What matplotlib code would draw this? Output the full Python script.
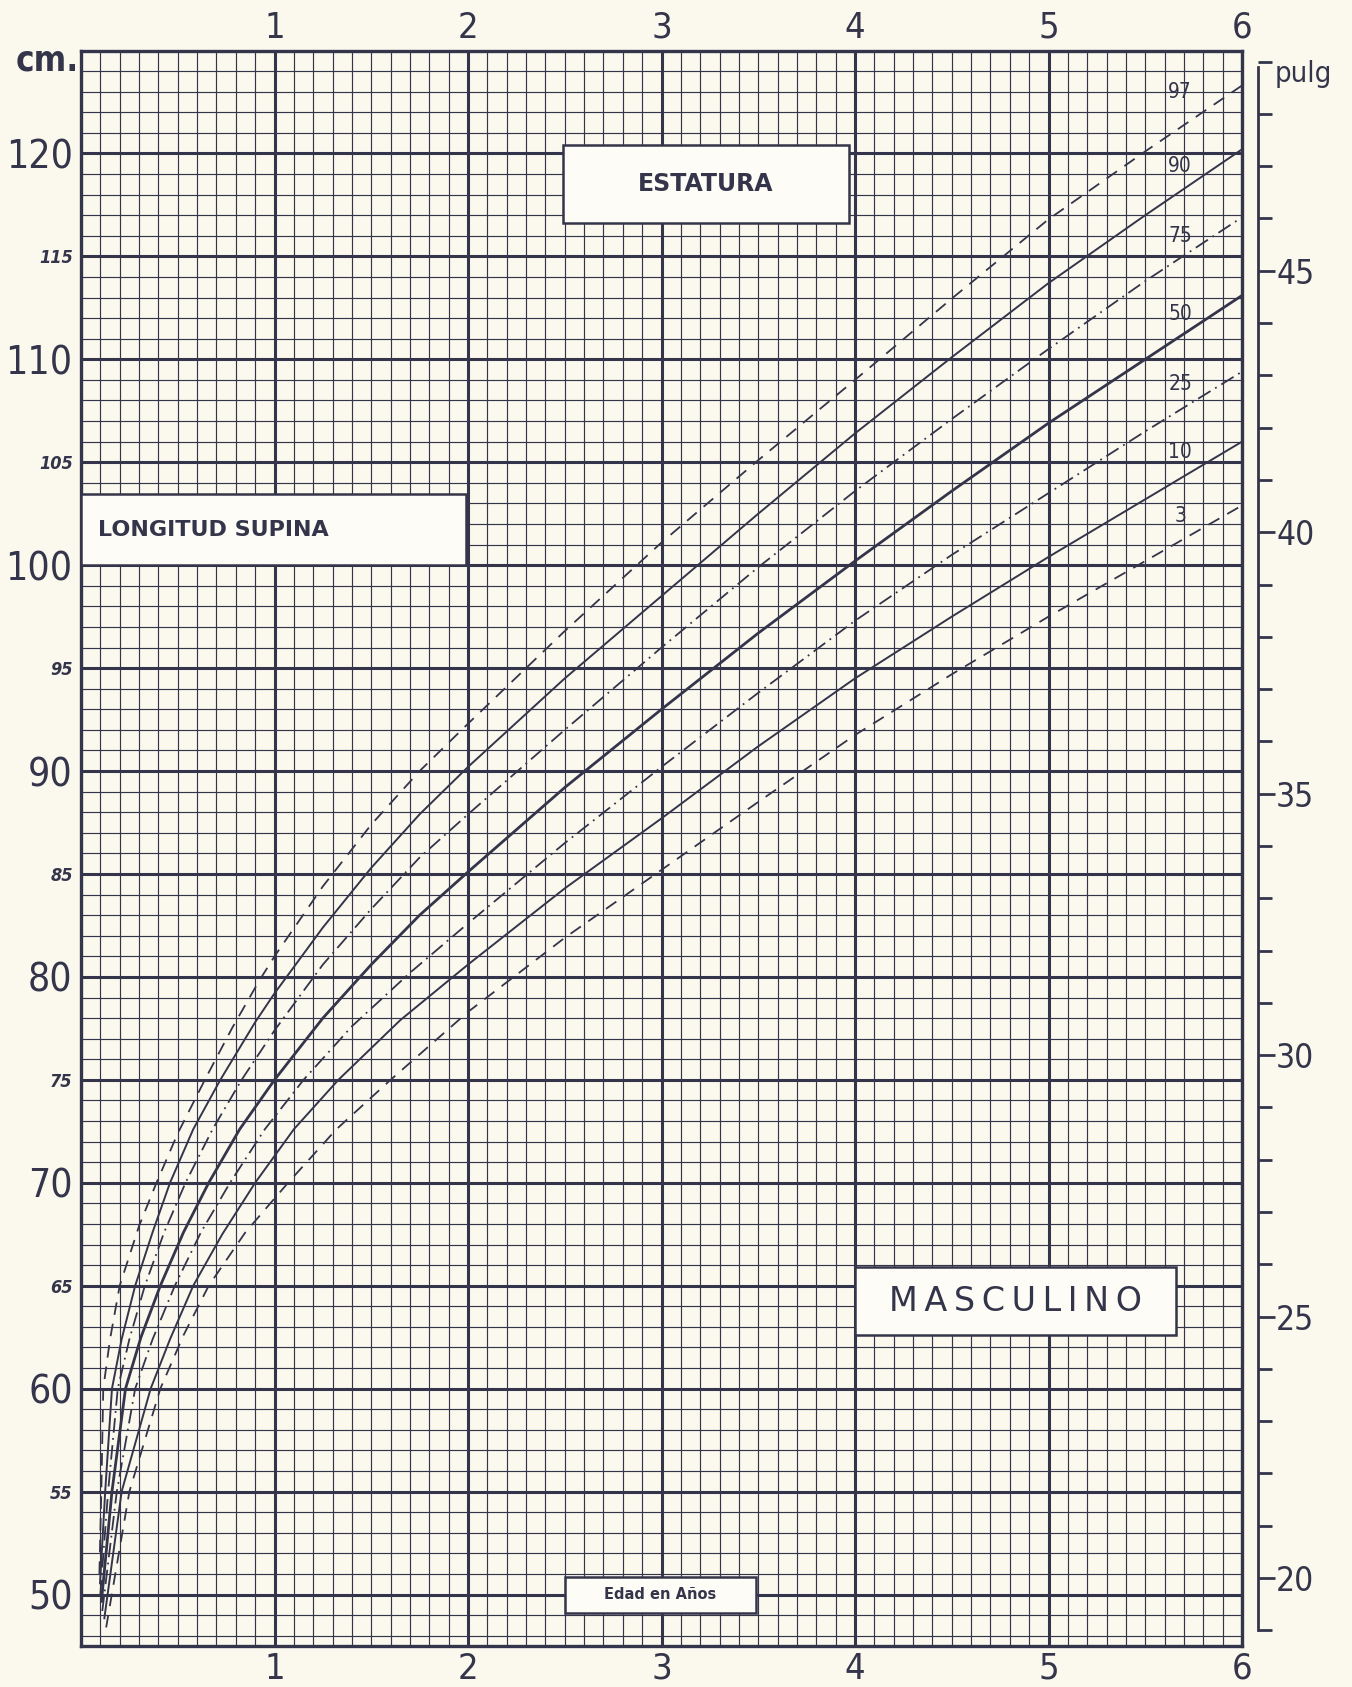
import matplotlib
matplotlib.use("Agg")
import matplotlib.pyplot as plt
from matplotlib.ticker import MultipleLocator, FixedLocator
from matplotlib.patches import Rectangle

"""
Data (read off the printed chart: age in years, length/height in cm)
"""

age_97 = [0.095, 0.105, 0.115, 0.15, 0.20, 0.30, 0.39, 0.50, 0.64, 0.78, 0.92, 1.0,
          1.25, 1.5, 1.75, 2.0, 2.5, 3.0, 3.5, 4.0, 4.5, 5.0, 5.5, 6.0]
cm_97 = [51.0, 55.0, 60.0, 62.4, 65.0, 67.9, 70.0, 72.4, 75.0, 77.5, 79.8, 81.0,
         84.4, 87.4, 90.0, 92.3, 96.8, 101.1, 105.1, 109.0, 112.95, 116.8, 120.1, 123.3]

age_90 = [0.098, 0.125, 0.16, 0.21, 0.28, 0.37, 0.46, 0.58, 0.72, 0.9, 1.0, 1.25,
          1.5, 1.75, 2.0, 2.5, 3.0, 3.5, 4.0, 4.5, 5.0, 5.5, 6.0]
cm_90 = [50.5, 55.0, 60.0, 62.4, 65.0, 67.6, 70.0, 72.6, 75.0, 77.8, 79.2, 82.4,
         85.3, 87.9, 90.2, 94.5, 98.5, 102.5, 106.4, 110.1, 113.7, 117.0, 120.2]

age_75 = [0.10, 0.14, 0.19, 0.25, 0.33, 0.43, 0.54, 0.68, 0.83, 1.0, 1.25, 1.5,
          1.75, 2.0, 2.5, 3.0, 3.5, 4.0, 4.5, 5.0, 5.5, 6.0]
cm_75 = [50.0, 55.0, 60.0, 62.4, 65.0, 67.6, 70.0, 72.6, 75.0, 77.4, 80.6, 83.3,
         85.8, 87.9, 92.0, 96.0, 99.9, 103.6, 107.1, 110.5, 113.8, 116.9]

age_50 = [0.105, 0.16, 0.23, 0.31, 0.41, 0.53, 0.66, 0.82, 1.0, 1.25, 1.5, 1.75,
          2.0, 2.5, 3.0, 3.5, 4.0, 4.5, 5.0, 5.5, 6.0]
cm_50 = [49.6, 55.0, 60.0, 62.5, 65.0, 67.6, 70.0, 72.6, 75.0, 78.0, 80.6, 83.0,
         85.1, 89.2, 93.0, 96.7, 100.2, 103.6, 106.9, 110.0, 113.1]

age_25 = [0.11, 0.185, 0.28, 0.37, 0.485, 0.62, 0.77, 0.95, 1.15, 1.4, 1.7, 2.0,
          2.5, 3.0, 3.5, 4.0, 4.5, 5.0, 5.5, 6.0]
cm_25 = [49.2, 55.0, 60.0, 62.4, 65.0, 67.6, 70.0, 72.6, 75.0, 77.6, 80.2, 82.6,
         86.5, 90.2, 93.8, 97.3, 100.5, 103.5, 106.5, 109.4]

age_10 = [0.12, 0.21, 0.36, 0.46, 0.58, 0.73, 0.9, 1.1, 1.33, 1.65, 2.0, 2.5,
          3.0, 3.5, 4.0, 4.5, 5.0, 5.5, 6.0]
cm_10 = [48.8, 55.0, 60.0, 62.4, 65.0, 67.5, 70.0, 72.6, 75.0, 77.9, 80.6, 84.3,
         87.7, 91.2, 94.5, 97.5, 100.4, 103.2, 106.0]

age_3 = [0.13, 0.25, 0.41, 0.53, 0.66, 0.85, 1.07, 1.32, 1.6, 2.0, 2.5, 3.0,
         3.5, 4.0, 4.5, 5.0, 5.5, 6.0]
cm_3 = [48.4, 55.0, 60.0, 62.6, 65.0, 67.6, 70.0, 72.6, 75.0, 78.3, 81.9, 85.2,
        88.5, 91.75, 94.7, 97.5, 100.2, 102.9]

pct_names = ["97", "90", "75", "50", "25", "10", "3"]
pct_label_y = [123.0, 119.4, 116.0, 112.2, 108.8, 105.5, 102.4]

year_ticks = [1, 2, 3, 4, 5, 6]
cm_ticks = [50, 55, 60, 65, 70, 75, 80, 85, 90, 95, 100, 105, 110, 115, 120]
inch_ticks = [20, 25, 30, 35, 40, 45]

"""
Style
"""

ink = "#34354a"
paper = "#fbf9ee"
box_fill = "#fdfcf6"
font = dict(family="DejaVu Sans", fontstretch="condensed")

styles = {
    "97": dict(ls=(0, (7, 5)), lw=1.3),
    "90": dict(ls="-", lw=1.4),
    "75": dict(ls=(0, (8, 3, 1, 3)), lw=1.3),
    "50": dict(ls="-", lw=2.0),
    "25": dict(ls=(0, (8, 3, 1, 3)), lw=1.3),
    "10": dict(ls="-", lw=1.4),
    "3": dict(ls=(0, (7, 5)), lw=1.3),
}


def curves():
    return [(age_97, cm_97), (age_90, cm_90), (age_75, cm_75), (age_50, cm_50),
            (age_25, cm_25), (age_10, cm_10), (age_3, cm_3)]


def add_box(ax, x0, x1, y0, y1):
    ax.add_patch(Rectangle((x0, y0), x1 - x0, y1 - y0, facecolor=box_fill,
                           edgecolor=ink, lw=1.8, zorder=3))


"""
Plot
"""

fig = plt.figure(figsize=(13.52, 16.87), dpi=100, facecolor=paper)
ax = fig.add_axes([81 / 1352, 41 / 1687, 1161 / 1352, 1595.5 / 1687])
ax.set_facecolor(paper)
ax.set_xlim(0, 6)
ax.set_ylim(47.5, 125)

# graph paper
ax.xaxis.set_major_locator(FixedLocator(year_ticks))
ax.xaxis.set_minor_locator(MultipleLocator(0.1))
ax.yaxis.set_major_locator(FixedLocator(cm_ticks))
ax.yaxis.set_minor_locator(MultipleLocator(1))
ax.grid(which="minor", color=ink, lw=0.85)
ax.grid(which="major", color=ink, lw=2.2)
ax.set_axisbelow(True)
for s in ax.spines.values():
    s.set_color(ink)
    s.set_linewidth(2.4)

ax.tick_params(which="both", length=0, colors=ink)
ax.tick_params(axis="x", which="major", top=True, labeltop=True, labelsize=26, pad=4)
ax.set_xticklabels([str(y) for y in year_ticks], **font)

ax.set_yticklabels([str(c) for c in cm_ticks], **font)
for lab, c in zip(ax.yaxis.get_ticklabels(), cm_ticks):
    lab.set_color(ink)
    if c % 10 == 5:
        lab.set_fontsize(13)
        lab.set_fontstyle("italic")
        lab.set_fontweight("bold")
    else:
        lab.set_fontsize(28)
ax.tick_params(axis="y", pad=6)

# percentile curves
for (x, y), n in zip(curves(), pct_names):
    ax.plot(x, y, color=ink, zorder=2, solid_capstyle="butt",
            dash_capstyle="butt", solid_joinstyle="round", **styles[n])
for n, yl in zip(pct_names, pct_label_y):
    ax.text(5.68, yl, n, fontsize=15, color=ink, ha="center", va="center",
            zorder=4, **font)

# label boxes
add_box(ax, 2.49, 3.97, 116.6, 120.4)
ax.text(3.23, 118.5, "ESTATURA", fontsize=17, fontweight="bold", color=ink,
        ha="center", va="center", zorder=4)
add_box(ax, 0.0, 1.99, 100.0, 103.45)
ax.text(0.09, 101.7, "LONGITUD SUPINA", fontsize=16, fontweight="bold", color=ink,
        ha="left", va="center", zorder=4)
add_box(ax, 4.0, 5.66, 62.6, 65.9)
ax.text(4.83, 64.25, "\u2009".join("MASCULINO"), fontsize=24,
        color=ink, ha="center", va="center", zorder=4)
add_box(ax, 2.5, 3.49, 49.1, 50.87)
ax.text(2.995, 49.98, "Edad en Años", fontsize=10.5, fontweight="bold", color=ink,
        ha="center", va="center", zorder=4)

ax.text(-0.012, 124.5, "cm.", fontsize=25, fontweight="bold", color=ink,
        ha="right", va="center", clip_on=False, **font)

# inches scale on the right
ax2 = ax.twinx()
ax2.set_ylim(47.5 / 2.54, 125 / 2.54)
for k in ["left", "top", "bottom"]:
    ax2.spines[k].set_visible(False)
ax2.spines["right"].set_position(("outward", 11.5))
ax2.spines["right"].set_bounds(19, 48.9)
ax2.spines["right"].set_color(ink)
ax2.spines["right"].set_linewidth(2.0)
ax2.yaxis.set_major_locator(FixedLocator(inch_ticks))
ax2.yaxis.set_minor_locator(FixedLocator(list(range(19, 50))))
ax2.set_yticklabels([str(i) for i in inch_ticks], **font)
ax2.tick_params(axis="y", which="both", direction="out", colors=ink, width=2.0)
ax2.tick_params(axis="y", which="major", length=12, labelsize=24, pad=1)
ax2.tick_params(axis="y", which="minor", length=10)
ax2.text(1.028, 0.985, "pulg", fontsize=21, color=ink, ha="left", va="center",
         transform=ax.transAxes, clip_on=False, **font)

fig.savefig("out.png", dpi=100, facecolor=paper)
